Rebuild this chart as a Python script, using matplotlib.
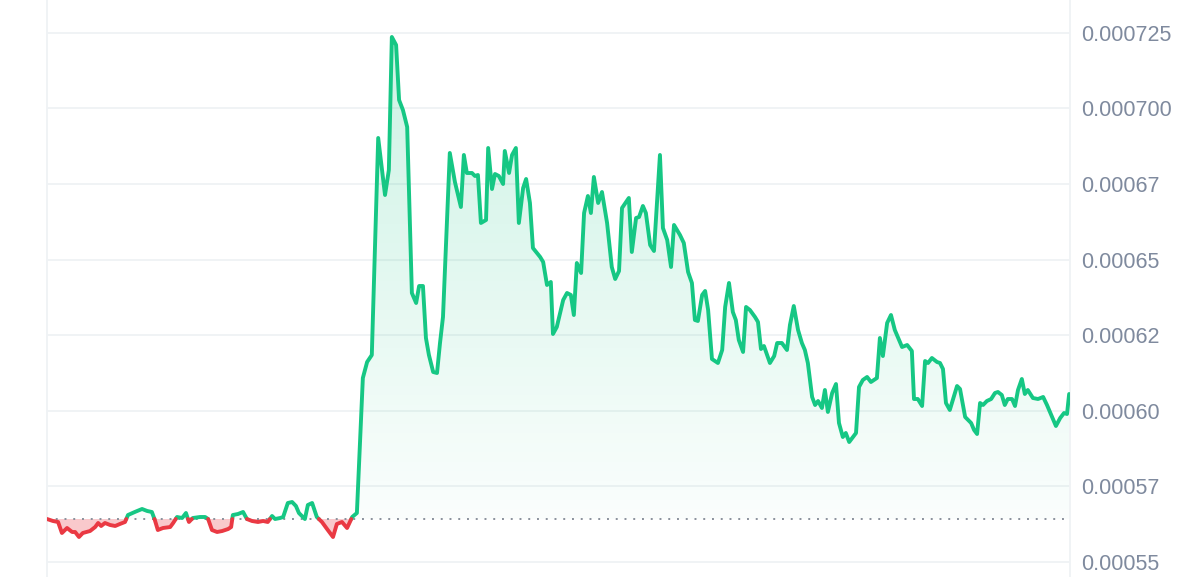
import numpy as np
import matplotlib.pyplot as plt
from matplotlib.colors import LinearSegmentedColormap

# hours since start of window
hours = [
    0.00, 0.14, 0.26, 0.35, 0.47, 0.59, 0.66, 0.75, 0.84, 1.01, 1.13, 1.20, 1.27, 1.36, 1.48, 1.60,
    1.71, 1.83, 1.90, 2.06, 2.23, 2.35, 2.46, 2.53, 2.60, 2.72, 2.89, 2.96, 3.05, 3.17, 3.26, 3.33,
    3.42, 3.59, 3.71, 3.78, 3.87, 3.99, 4.11, 4.25, 4.32, 4.36, 4.48, 4.60, 4.69, 4.81, 4.95, 5.07,
    5.18, 5.28, 5.35, 5.47, 5.54, 5.65, 5.75, 5.84, 5.91, 6.05, 6.12, 6.22, 6.33, 6.45, 6.57, 6.71,
    6.80, 6.92, 7.04, 7.16, 7.27,
    7.41, 7.51, 7.62, 7.77, 7.93, 8.02, 8.09, 8.19, 8.26, 8.35, 8.45, 8.56, 8.66, 8.73, 8.82, 8.89,
    8.96, 9.06, 9.15, 9.22, 9.29, 9.45, 9.57, 9.71, 9.78, 9.85, 9.97, 10.04, 10.11, 10.18, 10.30, 10.35,
    10.44, 10.51, 10.60, 10.70, 10.74, 10.84, 10.91, 11.00, 11.07, 11.17, 11.24, 11.33, 11.40, 11.57,
    11.64, 11.73, 11.82, 11.87, 11.96, 12.11, 12.20, 12.29, 12.36, 12.43, 12.53, 12.60, 12.69, 12.76,
    12.83, 12.93, 13.02, 13.14, 13.25, 13.33, 13.42, 13.49, 13.65, 13.72, 13.82, 13.89, 13.98, 14.05,
    14.15, 14.24, 14.38, 14.45, 14.55, 14.64, 14.71, 14.85, 14.94, 15.04, 15.13, 15.20, 15.27, 15.37,
    15.44, 15.51, 15.60, 15.74, 15.84, 15.91, 16.00, 16.09, 16.16, 16.23, 16.33, 16.40, 16.49, 16.61,
    16.68, 16.75, 16.82, 16.96, 17.06, 17.13, 17.24, 17.36, 17.43, 17.52, 17.62, 17.71, 17.78, 17.85,
    17.95, 18.02, 18.09, 18.18, 18.25, 18.32, 18.42, 18.51, 18.58, 18.67, 18.74, 18.82, 18.98, 19.05,
    19.14, 19.24, 19.33, 19.47, 19.54, 19.61, 19.71, 19.80, 19.89, 20.06, 20.18, 20.29, 20.34, 20.43,
    20.53, 20.60, 20.67, 20.76, 20.88, 20.95, 21.02, 21.09, 21.18, 21.35, 21.42, 21.54, 21.61, 21.68,
    21.75, 21.82, 21.89, 21.96, 22.05, 22.15, 22.24, 22.31, 22.40, 22.47, 22.54, 22.64, 22.71, 22.78,
    22.87, 22.94, 23.01, 23.13, 23.25, 23.37, 23.46, 23.58, 23.67, 23.77, 23.86, 23.93, 23.98,
]

# price in millionths of a dollar
price_u = [
    564.22, 563.56, 563.23, 559.59, 561.24, 559.92, 559.92, 558.27, 559.59, 560.25, 561.57, 562.90,
    561.91, 562.90, 562.24, 561.91, 562.57, 563.23, 565.54, 566.54, 567.53, 566.87, 566.54, 563.89,
    560.58, 561.24, 561.57, 562.90, 564.88, 564.55, 566.20, 563.23, 564.55, 564.88, 564.88, 564.22,
    560.58, 559.92, 560.25, 560.91, 561.57, 565.54, 565.87, 566.54, 564.22, 563.56, 563.23, 563.56,
    563.23, 565.21, 564.22, 564.55, 564.88, 569.51, 569.84, 568.52, 566.20, 564.22, 568.85, 569.51,
    564.88, 563.23, 560.91, 558.27, 562.57, 563.23, 561.24, 564.88, 566.20,
    610.85, 616.14, 618.45, 690.22, 671.37, 679.63, 723.62, 720.97, 702.78, 699.48, 693.85, 638.96,
    635.65, 641.27, 641.27, 624.08, 618.45, 612.83, 612.50, 622.42, 631.02, 685.26, 675.67, 667.40,
    684.60, 678.64, 678.64, 677.65, 677.98, 662.11, 663.10, 686.91, 673.35, 678.31, 677.65, 675.00,
    685.92, 678.64, 684.60, 686.91, 662.11, 673.68, 676.66, 668.72, 653.84, 650.86, 649.21, 641.60,
    642.60, 625.40, 627.71, 636.64, 638.96, 638.30, 631.68, 648.88, 645.57, 665.41, 671.04, 665.41,
    677.32, 668.72, 672.36, 662.11, 647.56, 643.59, 646.23, 667.07, 670.38, 652.52, 663.76, 664.09,
    667.73, 665.41, 654.83, 652.85, 684.60, 660.45, 656.49, 647.56, 661.45, 658.14, 655.49, 645.90,
    642.27, 630.03, 629.70, 638.30, 639.62, 633.34, 617.13, 615.81, 620.11, 634.33, 642.27, 632.68,
    630.03, 623.42, 619.45, 634.33, 633.34, 631.02, 629.37, 620.44, 621.43, 615.81, 618.12, 622.42,
    622.42, 620.11, 628.38, 634.66, 626.72, 622.42, 620.11, 615.81, 604.57, 601.92, 603.24, 600.93,
    606.88, 599.61, 605.89, 608.86, 595.97, 591.34, 592.66, 589.68, 592.66, 607.87, 610.19, 611.18,
    609.53, 610.85, 624.08, 618.12, 629.04, 631.68, 626.72, 621.10, 621.76, 619.78, 603.90, 603.90,
    601.59, 616.47, 615.81, 617.46, 616.14, 615.81, 613.82, 602.58, 600.27, 608.20, 607.21, 597.95,
    596.96, 595.97, 593.65, 592.33, 602.58, 601.92, 603.24, 603.90, 605.89, 606.22, 605.23, 601.92,
    603.90, 603.90, 601.59, 606.88, 610.52, 605.56, 606.88, 604.23, 603.90, 604.57, 601.92, 597.95,
    594.98, 597.62, 599.27, 598.94, 605.56,
]

tick_vals = [0.00055, 0.000575, 0.0006, 0.000625, 0.00065, 0.000675, 0.0007, 0.000725]
tick_labels = ["0.00055", "0.00057", "0.00060", "0.00062", "0.00065", "0.00067", "0.000700", "0.000725"]

GREEN = "#16c784"
RED = "#ea3943"
GRID = "#eff2f5"

t = np.array(hours)
p = np.array(price_u) * 1e-6
base = p[0]


def with_crossings(x, y, b):
    # add points where the line crosses the baseline so colours split cleanly
    xs, ys = [x[0]], [y[0]]
    for i in range(1, len(x)):
        y0, y1 = y[i - 1] - b, y[i] - b
        if y0 * y1 < 0:
            f = y0 / (y0 - y1)
            xs.append(x[i - 1] + f * (x[i] - x[i - 1]))
            ys.append(b)
        xs.append(x[i])
        ys.append(y[i])
    return np.array(xs), np.array(ys)


tx, py = with_crossings(t, p, base)

fig = plt.figure(figsize=(12, 5.77), dpi=100)
ax = fig.add_axes([47 / 1200, 0, 1023 / 1200, 1])
ymin, ymax = 0.00054504, 0.00073585

for v in tick_vals:
    ax.axhline(v, color=GRID, lw=1.3, zorder=0)

# green gradient area above the baseline (one polygon used as clip)
poly = ax.fill_between(tx, base, np.maximum(py, base), color="none", lw=0)
cmap = LinearSegmentedColormap.from_list("g", [(0.086, 0.78, 0.52, 0.02), (0.086, 0.78, 0.52, 0.22)])
grad = np.linspace(0, 1, 256).reshape(-1, 1)
img = ax.imshow(grad, cmap=cmap, origin="lower", aspect="auto",
                extent=[0, 24, base, 0.000725], zorder=1, interpolation="bilinear")
img.set_clip_path(poly.get_paths()[0], transform=ax.transData)
ax.set_xlim(0, 24)
ax.set_ylim(ymin, ymax)

# red area below the baseline
ax.fill_between(tx, base, py, where=py <= base, color=RED, alpha=0.27, lw=0, zorder=1)

# line, split into colours
up = np.where(py >= base, py, np.nan)
dn = np.where(py <= base, py, np.nan)
ax.plot(tx, up, color=GREEN, lw=2.8, zorder=3, solid_joinstyle="round", solid_capstyle="round")
ax.plot(tx, dn, color=RED, lw=2.8, zorder=3, solid_joinstyle="round", solid_capstyle="round")

ax.axhline(base, color="#8a919c", lw=1.4, ls=(0, (1, 3.5)), zorder=2)

for s in ["top", "bottom"]:
    ax.spines[s].set_visible(False)
for s in ["left", "right"]:
    ax.spines[s].set_color(GRID)
    ax.spines[s].set_linewidth(1.3)

ax.set_xticks([])
ax.yaxis.tick_right()
ax.set_yticks(tick_vals)
ax.set_yticklabels(tick_labels)
ax.tick_params(axis="y", length=0, pad=8, labelsize=15.5, labelcolor="#7f8a9e")
for lab in ax.get_yticklabels():
    lab.set_fontfamily(["Liberation Sans", "DejaVu Sans"])

fig.savefig("out.png", dpi=100)
